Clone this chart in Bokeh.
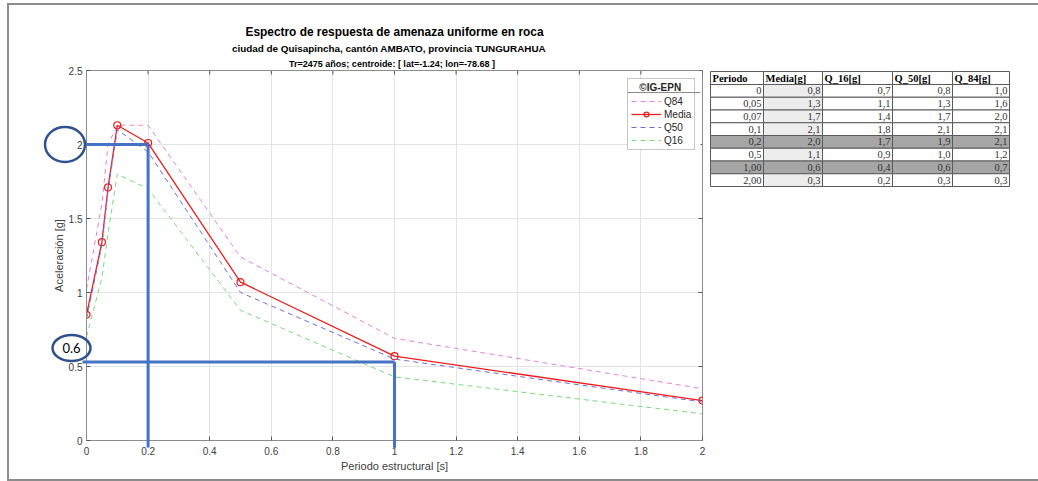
from bokeh.plotting import figure
from bokeh.models import (Range1d, FixedTicker, Legend, LegendItem, Title)
from bokeh.layouts import row
from bokeh.embed import file_html
from bokeh.resources import INLINE
from bokeh.core.properties import value

# ---------------- data ----------------
periods = [0, 0.05, 0.07, 0.1, 0.2, 0.5, 1.0, 2.0]
media = [0.85, 1.34, 1.71, 2.13, 2.01, 1.07, 0.57, 0.27]
q84 = [1.02, 1.60, 2.00, 2.13, 2.13, 1.24, 0.69, 0.35]
q50 = [0.82, 1.32, 1.69, 2.10, 1.95, 1.00, 0.55, 0.26]
q16 = [0.70, 1.10, 1.40, 1.80, 1.70, 0.88, 0.43, 0.18]

x_ticks = [0, 0.2, 0.4, 0.6, 0.8, 1.0, 1.2, 1.4, 1.6, 1.8, 2.0]
x_tick_labels = ["0", "0.2", "0.4", "0.6", "0.8", "1", "1.2", "1.4", "1.6", "1.8", "2"]
y_ticks = [0, 0.5, 1.0, 1.5, 2.0, 2.5]
y_tick_labels = ["0", "0.5", "1", "1.5", "2", "2.5"]

title_lines = ["Espectro de respuesta de amenaza uniforme en roca",
               "ciudad de Quisapincha,  cantón  AMBATO,  provincia  TUNGURAHUA",
               "Tr=2475 años; centroide:  [ lat=-1.24;  lon=-78.68 ]"]
title_sizes = ["11.9px", "9.9px", "9px"]

# highlighted readings (drawn by hand on the original)
marked_periods = [0.2, 1.0]
marked_values = [2.0, 0.53]
marked_note = "0.6"

table_header = ["Periodo", "Media[g]", "Q_16[g]", "Q_50[g]", "Q_84[g]"]
table_periodo = ["0", "0,05", "0,07", "0,1", "0,2", "0,5", "1,00", "2,00"]
table_media = ["0,8", "1,3", "1,7", "2,1", "2,0", "1,1", "0,6", "0,3"]
table_q16 = ["0,7", "1,1", "1,4", "1,8", "1,7", "0,9", "0,4", "0,2"]
table_q50 = ["0,8", "1,3", "1,7", "2,1", "1,9", "1,0", "0,6", "0,3"]
table_q84 = ["1,0", "1,6", "2,0", "2,1", "2,1", "1,2", "0,7", "0,3"]
highlight_rows = ["0,2", "1,00"]

SANS = "Liberation Sans"
SERIF = "Liberation Serif"
AX_COL = "#404040"

X0, X1, Y0, Y1 = 0, 2, 0, 2.5
FRAME_W, FRAME_H = 616, 370
PX = (X1 - X0) / FRAME_W   # data units per screen pixel
PY = (Y1 - Y0) / FRAME_H

# ---------------- main chart ----------------
p = figure(width=700, height=474, x_range=Range1d(X0, X1), y_range=Range1d(Y0, Y1),
           output_backend="svg", toolbar_location=None,
           min_border_left=77, min_border_right=7, min_border_top=65, min_border_bottom=39,
           x_axis_label="Periodo estructural [s]", y_axis_label="Aceleración [g]")
p.outline_line_color = "#8c8c8c"
p.background_fill_color = "white"

p.xaxis.ticker = FixedTicker(ticks=x_ticks)
p.xaxis.major_label_overrides = dict(zip(x_ticks, x_tick_labels))
p.yaxis.ticker = FixedTicker(ticks=y_ticks)
p.yaxis.major_label_overrides = dict(zip(y_ticks, y_tick_labels))
for ax in p.axis:
    ax.major_tick_in = 4
    ax.major_tick_out = 0
    ax.minor_tick_line_color = None
    ax.axis_line_color = "#8c8c8c"
    ax.major_tick_line_color = "#555555"
    ax.major_label_text_font = SANS
    ax.major_label_text_font_size = "10px"
    ax.major_label_text_color = AX_COL
    ax.axis_label_text_font = SANS
    ax.axis_label_text_font_size = "11px"
    ax.axis_label_text_font_style = "normal"
    ax.axis_label_text_color = AX_COL
p.xaxis.major_label_standoff = 6
p.xaxis.axis_label_standoff = 2
p.yaxis.major_label_standoff = 4
p.yaxis.axis_label_standoff = 1

p.xgrid.ticker = FixedTicker(ticks=x_ticks)
p.ygrid.ticker = FixedTicker(ticks=y_ticks)
p.grid.grid_line_color = "#e3e3e3"

# box ticks on the top and right edges (MATLAB "box on")
p.segment(x0=x_ticks, y0=[Y1] * len(x_ticks), x1=x_ticks, y1=[Y1 - 4 * PY] * len(x_ticks),
          line_color="#555555", line_width=1)
p.segment(x0=[X1] * len(y_ticks), y0=y_ticks, x1=[X1 - 4 * PX] * len(y_ticks), y1=y_ticks,
          line_color="#555555", line_width=1)

title_standoffs = [2, 2, 4]
for txt, size, so in reversed(list(zip(title_lines, title_sizes, title_standoffs))):
    p.add_layout(Title(text=txt, align="center", text_font=SANS, text_font_style="bold",
                       text_font_size=size, text_color="#000000", standoff=so), "above")

# white panel behind the (transparent) legend box, hiding the grid there
p.quad(left=[X1 - 75 * PX], right=[X1 - 2 * PX], top=[Y1 - 8 * PY], bottom=[Y1 - 79 * PY],
       fill_color="white", line_color=None)

r84 = p.line(periods, q84, line_color="#e680e6", line_width=1, line_dash="5 4")
rm = p.line(periods, media, line_color="#ee1c1c", line_width=1.3)
rmc = p.scatter(periods, media, marker="circle", size=7, fill_color=None,
                line_color="#ee1c1c", line_width=1.2)
r50 = p.line(periods, q50, line_color="#6f6fdc", line_width=1, line_dash="5 4")
r16 = p.line(periods, q16, line_color="#77dd77", line_width=1, line_dash="5 4")

legend = Legend(items=[LegendItem(label="Q84", renderers=[r84]),
                       LegendItem(label="Media", renderers=[rm, rmc]),
                       LegendItem(label="Q50", renderers=[r50]),
                       LegendItem(label="Q16", renderers=[r16])],
                location=(541, 290), title="\u00a0\u00a0\u00a0©IG-EPN")
legend.title_text_font = SANS
legend.title_text_font_style = "bold"
legend.title_text_font_size = "10px"
legend.title_text_color = "#262626"
legend.title_standoff = 2
legend.label_text_font = SANS
legend.label_text_font_size = "10px"
legend.label_text_color = "#262626"
legend.glyph_width = 30
legend.glyph_height = 12
legend.label_height = 12
legend.label_standoff = 3
legend.spacing = 1
legend.padding = 3
legend.margin = 0
legend.border_line_color = "#8c8c8c"
legend.border_line_width = 1
legend.background_fill_alpha = 0
p.add_layout(legend)
# separator under legend title
p.segment(x0=[X1 - 75 * PX], y0=[Y1 - 22 * PY], x1=[X1 - 2 * PX], y1=[Y1 - 22 * PY],
          line_color="#8c8c8c", line_width=1)

# hand-drawn blue highlights
BLUE = "#4472c4"
NAVY = "#2f528f"
p.segment(x0=[0, marked_periods[0], -4 * PX, marked_periods[1]],
          y0=[marked_values[0], marked_values[0], marked_values[1], marked_values[1]],
          x1=[marked_periods[0], marked_periods[0], marked_periods[1], marked_periods[1]],
          y1=[marked_values[0], -7 * PY, marked_values[1], -7 * PY],
          line_color=BLUE, line_width=3, level="overlay")
# ellipse round the "2" tick label and the "0.6" note
p.ellipse(x=[-21.5 * PX, -15 * PX], y=[marked_values[0], marked_values[1] + 14 * PY],
          width=[40, 38], height=[35, 26], width_units="screen", height_units="screen",
          fill_color=None, line_color=NAVY, line_width=2.5, level="overlay")
p.text(x=[-15 * PX], y=[marked_values[1] + 14 * PY], text=[marked_note],
       text_font=value("Lato"), text_font_size="13px", text_color="#000000",
       text_align="center", text_baseline="middle", level="overlay")

# ---------------- table ----------------
# frame of this figure is aligned with the chart frame (page y 70..440)
t = figure(width=329, height=474, x_range=Range1d(709, 1038), y_range=Range1d(440, 70),
           output_backend="svg", toolbar_location=None,
           min_border_left=0, min_border_right=0, min_border_top=65, min_border_bottom=39,
           x_axis_type=None, y_axis_type=None)
t.outline_line_color = None
t.grid.visible = False

col_x = [710, 763, 822, 892, 952, 1009]
head_top, head_bot, row_h = 71, 84, 12.75
columns = [table_periodo, table_media, table_q16, table_q50, table_q84]

L, R, T, B, F = [], [], [], [], []
for c in range(5):
    L.append(col_x[c]); R.append(col_x[c + 1]); T.append(head_top); B.append(head_bot)
    F.append("white")
for r, per in enumerate(table_periodo):
    for c in range(5):
        L.append(col_x[c]); R.append(col_x[c + 1])
        T.append(head_bot + r * row_h); B.append(head_bot + (r + 1) * row_h)
        if per in highlight_rows:
            F.append("#a6a6a6")
        elif c == 1:
            F.append("#ededed")
        else:
            F.append("white")
t.quad(left=L, right=R, top=T, bottom=B, fill_color=F, line_color="#5a5a5a", line_width=1)

t.text(x=[col_x[c] + 2 for c in range(5)], y=[(head_top + head_bot) / 2] * 5,
       text=table_header, text_font=value(SERIF), text_font_style="bold",
       text_font_size="10.5px", text_baseline="middle", text_align="left", text_color="#000000")
tx, ty, tt = [], [], []
for c in range(5):
    for r, v in enumerate(columns[c]):
        tx.append(col_x[c + 1] - 2)
        ty.append(head_bot + (r + 0.5) * row_h)
        tt.append(v)
t.text(x=tx, y=ty, text=tt, text_font=value(SERIF), text_font_size="10.5px",
       text_baseline="middle", text_align="right", text_color="#333333")

layout = row(p, t, margin=(3, 0, 0, 7),
             styles={"border-top": "2px solid #8c8c8c", "border-left": "2px solid #8c8c8c",
                     "border-bottom": "2px solid #8c8c8c"})

open("out.html", "w").write(file_html(layout, INLINE))
